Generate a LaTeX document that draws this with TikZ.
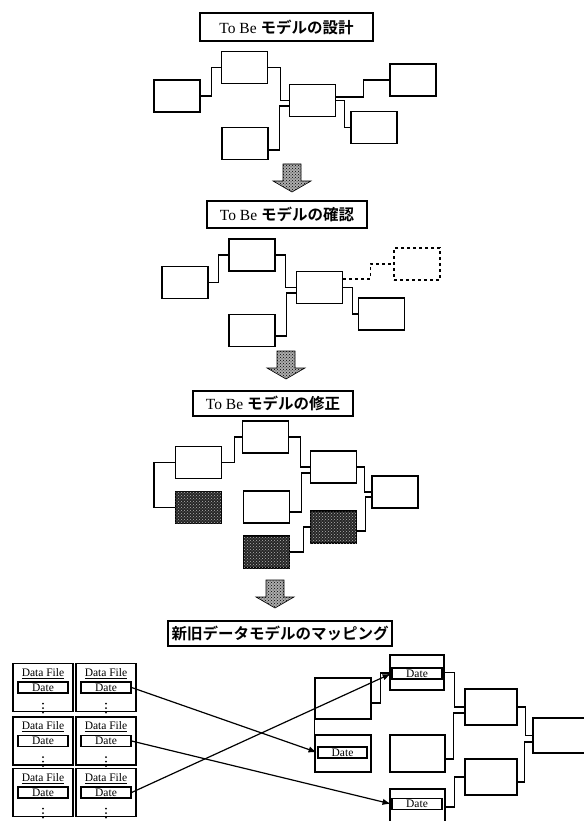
\documentclass[tikz,border=0pt]{standalone}
\usepackage{fontspec}
\setmainfont{Liberation Serif}
\newfontfamily\jpfont{Noto Sans CJK JP Bold}
\usetikzlibrary{arrows.meta,patterns}

% hatched block arrow pointing down, top centre at (#1,#2)
\newcommand{\bigdown}[2]{%
  \draw[fatarrow,shift={(#1,#2)}]
    (-9,0) -- (9,0) -- (9,17) -- (19,17) -- (0,28) -- (-19,17) -- (-9,17) -- cycle;}

\begin{document}
\begin{tikzpicture}[
  x=1pt,y=-1pt,
  >=Latex,
  blk/.style={draw,line width=1.2pt,minimum width=46pt,minimum height=32pt,inner sep=0pt},
  hatchblk/.style={blk,fill=black!85,postaction={pattern=crosshatch dots,pattern color=white!70!black}},
  ghost/.style={blk,dashed},
  ttl/.style={draw,line width=1.2pt,inner sep=0pt,font=\fontsize{15.5}{18}\selectfont},
  wire/.style={line width=1.2pt},
  fatarrow/.style={draw=black,line width=0.6pt,fill=gray!65,postaction={pattern=crosshatch dots}},
  cell/.style={draw,line width=1.2pt,minimum width=60pt,minimum height=48pt,inner sep=0pt},
  datebox/.style={draw,line width=1.2pt,minimum width=50pt,minimum height=11pt,inner sep=0pt,font=\fontsize{11.5}{12}\selectfont},
  note/.style={inner sep=0pt,font=\fontsize{11.5}{12}\selectfont},
  vdots/.style={line width=2pt,line cap=round,dash pattern=on 0pt off 4.5pt},
  mapline/.style={->,line width=1.2pt,shorten >=0.5pt}
]
  \useasboundingbox (0,0) rectangle (583,821);

  % ---- step 1: design
  \node[ttl,minimum width=173pt,minimum height=28pt] (t1) at (286.5,27) {To Be {\jpfont モデルの設計}};
  \node[blk] (a1) at (177,96) {};
  \node[blk] (b1) at (244.5,67.5) {};
  \node[blk] (c1) at (312.5,100.5) {};
  \node[blk] (d1) at (245,143.5) {};
  \node[blk] (e1) at (413,80) {};
  \node[blk] (f1) at (374,127.5) {};
  \draw[wire] (a1.east) -- ++(11,0) |- (b1.west);
  \draw[wire] (b1.east) -- ++(12,0) |- (c1.west);
  \draw[wire] ([yshift=-6.5pt]d1.east) -- ++(11,0) |- ([yshift=-5.5pt]c1.west);
  \draw[wire] ([yshift=3.5pt]c1.east) -- ++(27,0) |- (e1.west);
  \draw[wire] (c1.east) -- ++(8,0) |- (f1.west);

  \bigdown{292}{164}

  % ---- step 2: check
  \node[ttl,minimum width=160pt,minimum height=27pt] (t2) at (287,214.5) {To Be {\jpfont モデルの確認}};
  \node[blk] (a2) at (185,282.5) {};
  \node[blk] (b2) at (252,255) {};
  \node[blk] (c2) at (319.5,287.5) {};
  \node[blk] (d2) at (252,330.5) {};
  \node[ghost] (e2) at (417,264) {};
  \node[blk] (f2) at (381.5,314) {};
  \draw[wire] (a2.east) -- ++(10,0) |- (b2.west);
  \draw[wire] (b2.east) -- ++(10,0) |- (c2.west);
  \draw[wire] ([yshift=-5.5pt]d2.east) -- ++(11,0) |- ([yshift=-5.5pt]c2.west);
  \draw[wire,dashed] ([yshift=8.5pt]c2.east) -- ++(27,0) |- (e2.west);
  \draw[wire] (c2.east) -- ++(9,0) |- (f2.west);

  \bigdown{286}{351}

  % ---- step 3: revise
  \node[ttl,minimum width=160pt,minimum height=25pt] (t3) at (273,403.5) {To Be {\jpfont モデルの修正}};
  \node[blk] (a3) at (198.5,462.5) {};
  \node[hatchblk] (a3h) at (198.5,507.5) {};
  \node[blk] (b3) at (265.5,437) {};
  \node[blk] (d3) at (266.5,507) {};
  \node[hatchblk] (g3) at (266.5,552) {};
  \node[blk] (c3) at (333.5,467) {};
  \node[hatchblk] (h3) at (333.5,527) {};
  \node[blk] (e3) at (395,492) {};
  \draw[wire] (a3.west) -- ++(-21,0) |- (a3h.west);
  \draw[wire] (a3.east) -- ++(12,0) |- (b3.west);
  \draw[wire] (b3.east) -- ++(11,0) |- (c3.west);
  \draw[wire] ([yshift=-5pt]d3.east) -- ++(11,0) |- ([yshift=-6pt]c3.west);
  \draw[wire] (g3.east) -- ++(13,0) |- (h3.west);
  \draw[wire] (c3.east) -- ++(7,0) |- (e3.west);
  \draw[wire] ([yshift=-4pt]h3.east) -- ++(8,0) |- ([yshift=-5pt]e3.west);

  \bigdown{275}{580}

  % ---- step 4: mapping old and new data models
  \node[ttl,minimum width=224pt,minimum height=25pt] (t4) at (280,633.5) {\jpfont 新旧データモデルのマッピング};

  % old data files
  \foreach \r/\y in {1/687.5,2/741,3/792.5}{
    \foreach \c/\x in {1/43,2/106}{
      \node[cell] (c\r\c) at (\x,\y) {};
      \node[note] (f\r\c) at ([yshift=14pt]c\r\c.center) {\underline{Data File}};
      \node[datebox] (d\r\c) at (c\r\c.center) {Date};
      \draw[vdots] ([yshift=-10pt]d\r\c.south) -- ([yshift=-3pt]c\r\c.south);
    }
  }

  % new model
  \node[blk,minimum width=56pt,minimum height=41pt] (m1) at (343,698.5) {};
  \node[blk,minimum width=56pt,minimum height=37pt] (m2) at (343,753.5) {};
  \node[datebox,minimum width=49pt] (m2d) at (342.5,752.5) {Date};
  \node[blk,minimum width=54pt,minimum height=35pt] (r1) at (417,672.5) {};
  \node[datebox] (r1d) at (417,673.5) {Date};
  \node[blk,minimum width=55pt,minimum height=37pt] (p1) at (417.5,753.5) {};
  \node[blk,minimum width=55pt,minimum height=36pt] (r4) at (417.5,807) {};
  \node[datebox] (r4d) at (417,804) {Date};
  \node[blk,minimum width=52pt,minimum height=36pt] (r2) at (491,707) {};
  \node[blk,minimum width=52pt,minimum height=36pt] (r3) at (491,777) {};
  \node[blk,minimum width=56pt,minimum height=35pt] (z1) at (561,735.5) {};

  \draw[wire] (m1.south west) -- (m2.north west);
  \draw[wire] ([yshift=-4.5pt]m1.east) -- ++(9,0) |- ([yshift=-0.5pt]r1.west);
  \draw[wire] (r1.east) -- ++(10,0) |- (r2.west);
  \draw[wire] ([yshift=-5.5pt]p1.east) -- ++(8,0) |- ([yshift=-6pt]r2.west);
  \draw[wire] (r4.east) -- ++(9,0) |- (r3.west);
  \draw[wire] (r2.east) -- ++(8,0) |- (z1.west);
  \draw[wire] ([yshift=-5pt]r3.east) -- ++(7,0) |- ([yshift=-6.5pt]z1.west);

  % mapping lines
  \draw[mapline] (d12.east) -- (m2d.west);
  \draw[mapline] (d22.east) -- (r4d.west);
  \draw[mapline] (d32.east) -- (r1d.west);
\end{tikzpicture}
\end{document}
